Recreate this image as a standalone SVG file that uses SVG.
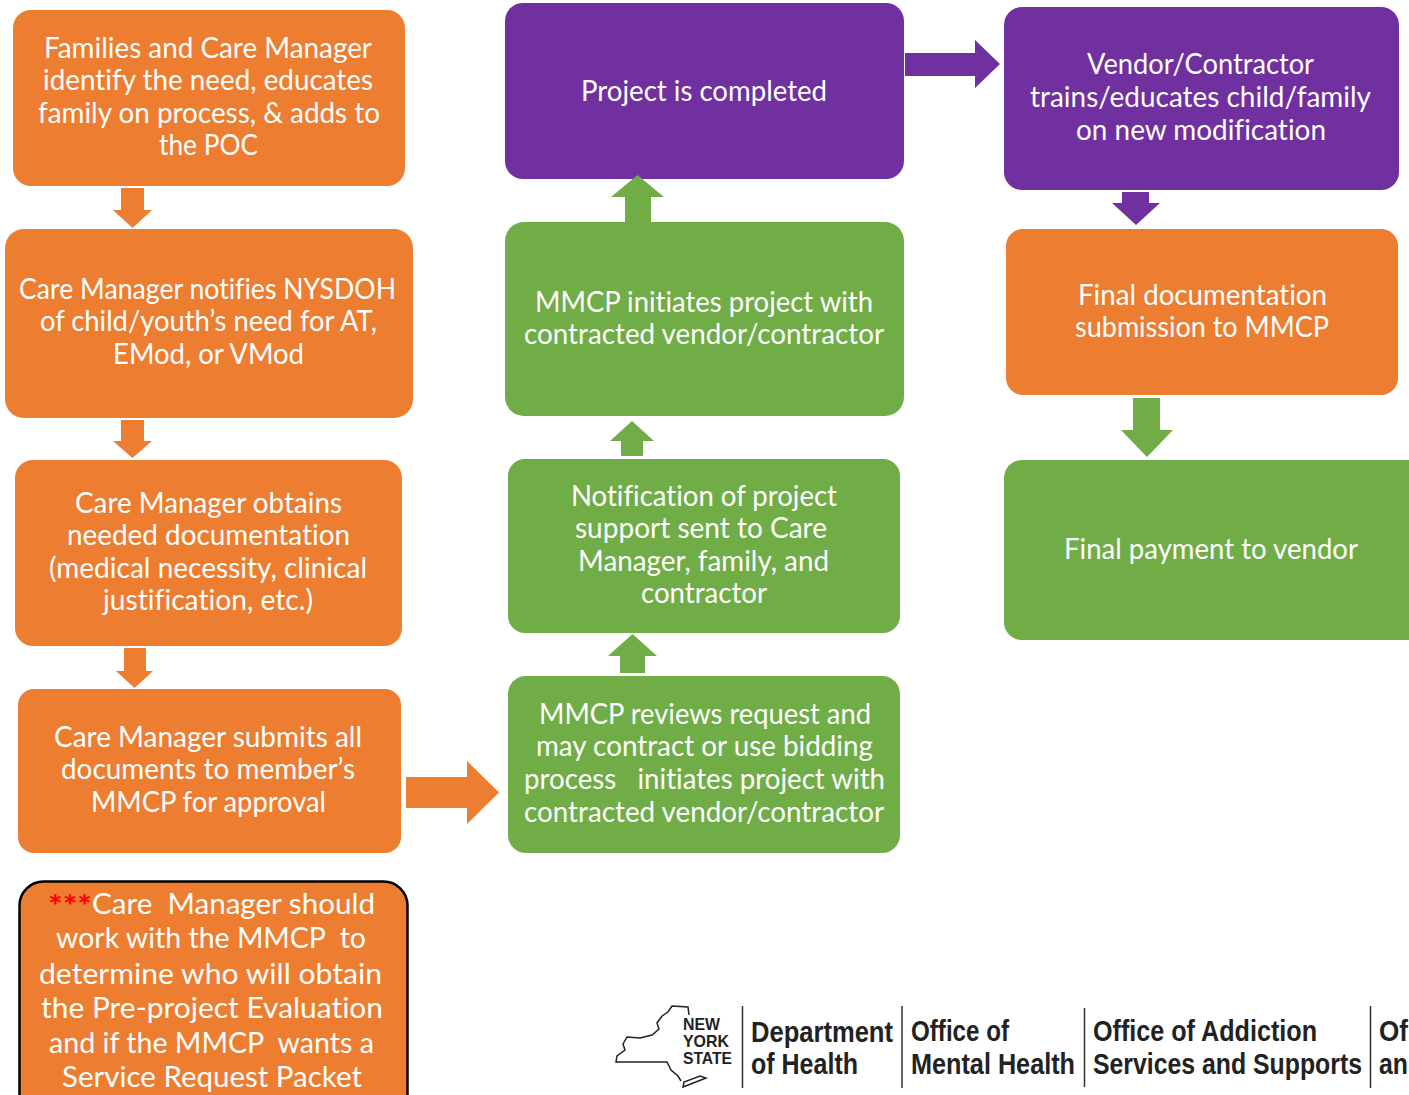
<svg xmlns="http://www.w3.org/2000/svg" width="1409" height="1095" viewBox="0 0 1409 1095">
<style>
.o{fill:#ED7D31}.g{fill:#70AD47}.p{fill:#7030A0}
text{font-family:"Lato","Liberation Sans",sans-serif;font-variant-ligatures:none}
.t{fill:#fff;font-size:28px}
.l{fill:#222;font-family:"Liberation Sans Narrow","Liberation Sans",sans-serif;font-weight:700;font-size:29px}
.s{fill:#222;font-family:"Liberation Sans Narrow","Liberation Sans",sans-serif;font-weight:700;font-size:17px}
.v{stroke:#333;stroke-width:1.500;fill:none}
</style>
<rect width="1409" height="1095" fill="#fff"/>
<g id="n1"><rect class="o" x="13" y="10" width="392" height="176" rx="18"/>
<text class="t" x="44" y="58" textLength="328" lengthAdjust="spacingAndGlyphs">Families and Care Manager</text>
<text class="t" x="43" y="90" textLength="330" lengthAdjust="spacingAndGlyphs">identify the need, educates</text>
<text class="t" x="38" y="123" textLength="342" lengthAdjust="spacingAndGlyphs">family on process, &amp; adds to</text>
<text class="t" x="159" y="155" textLength="99" lengthAdjust="spacingAndGlyphs">the POC</text></g>
<g id="n2"><rect class="o" x="5" y="229" width="408" height="189" rx="19"/>
<text class="t" x="19" y="299" textLength="377" lengthAdjust="spacingAndGlyphs">Care Manager notifies NYSDOH</text>
<text class="t" x="40" y="331" textLength="337" lengthAdjust="spacingAndGlyphs">of child/youth’s need for AT,</text>
<text class="t" x="113" y="364" textLength="191" lengthAdjust="spacingAndGlyphs">EMod, or VMod</text></g>
<g id="n3"><rect class="o" x="15" y="460" width="387" height="186" rx="18"/>
<text class="t" x="75" y="513" textLength="267" lengthAdjust="spacingAndGlyphs">Care Manager obtains</text>
<text class="t" x="67" y="545" textLength="283" lengthAdjust="spacingAndGlyphs">needed documentation</text>
<text class="t" x="49" y="578" textLength="318" lengthAdjust="spacingAndGlyphs">(medical necessity, clinical</text>
<text class="t" x="103" y="610" textLength="210" lengthAdjust="spacingAndGlyphs">justification, etc.)</text></g>
<g id="n4"><rect class="o" x="18" y="689" width="383" height="164" rx="16"/>
<text class="t" x="54" y="747" textLength="308" lengthAdjust="spacingAndGlyphs">Care Manager submits all</text>
<text class="t" x="61" y="779" textLength="294" lengthAdjust="spacingAndGlyphs">documents to member’s</text>
<text class="t" x="91" y="812" textLength="235" lengthAdjust="spacingAndGlyphs">MMCP for approval</text></g>
<g id="n5"><rect class="o" x="19.500" y="881.500" width="388" height="240" rx="24" stroke="#000" stroke-width="2.500"/>
<text x="48" y="917" fill="#f00" font-size="31" font-weight="700" textLength="44" lengthAdjust="spacingAndGlyphs">***</text>
<text class="t" x="92" y="914" textLength="283" lengthAdjust="spacingAndGlyphs" xml:space="preserve">Care  Manager should</text>
<text class="t" x="56" y="948" textLength="310" lengthAdjust="spacingAndGlyphs" xml:space="preserve">work with the MMCP  to</text>
<text class="t" x="39" y="984" textLength="343" lengthAdjust="spacingAndGlyphs">determine who will obtain</text>
<text class="t" x="41" y="1018" textLength="342" lengthAdjust="spacingAndGlyphs">the Pre-project Evaluation</text>
<text class="t" x="49" y="1053" textLength="325" lengthAdjust="spacingAndGlyphs" xml:space="preserve">and if the MMCP  wants a</text>
<text class="t" x="62" y="1087" textLength="300" lengthAdjust="spacingAndGlyphs">Service Request Packet</text></g>
<g id="n6"><rect class="p" x="505" y="3" width="399" height="176" rx="18"/>
<text class="t" x="581" y="101" textLength="246" lengthAdjust="spacingAndGlyphs">Project is completed</text></g>
<g id="n7"><rect class="g" x="505" y="222" width="399" height="194" rx="19"/>
<text class="t" x="535" y="312" textLength="338" lengthAdjust="spacingAndGlyphs">MMCP initiates project with</text>
<text class="t" x="524" y="344" textLength="360" lengthAdjust="spacingAndGlyphs">contracted vendor/contractor</text></g>
<g id="n8"><rect class="g" x="508" y="459" width="392" height="174" rx="17"/>
<text class="t" x="571" y="506" textLength="266" lengthAdjust="spacingAndGlyphs">Notification of project</text>
<text class="t" x="575" y="538" textLength="252" lengthAdjust="spacingAndGlyphs">support sent to Care</text>
<text class="t" x="578" y="571" textLength="251" lengthAdjust="spacingAndGlyphs">Manager, family, and</text>
<text class="t" x="641" y="603" textLength="126" lengthAdjust="spacingAndGlyphs">contractor</text></g>
<g id="n9"><rect class="g" x="508" y="676" width="392" height="177" rx="18"/>
<text class="t" x="539" y="724" textLength="332" lengthAdjust="spacingAndGlyphs">MMCP reviews request and</text>
<text class="t" x="536" y="756" textLength="337" lengthAdjust="spacingAndGlyphs">may contract or use bidding</text>
<text class="t" x="524" y="789" textLength="361" lengthAdjust="spacingAndGlyphs" xml:space="preserve">process   initiates project with</text>
<text class="t" x="524" y="822" textLength="360" lengthAdjust="spacingAndGlyphs">contracted vendor/contractor</text></g>
<g id="n10"><rect class="p" x="1004" y="7" width="395" height="183" rx="18"/>
<text class="t" x="1087" y="74" textLength="227" lengthAdjust="spacingAndGlyphs">Vendor/Contractor</text>
<text class="t" x="1030" y="107" textLength="341" lengthAdjust="spacingAndGlyphs">trains/educates child/family</text>
<text class="t" x="1076" y="140" textLength="250" lengthAdjust="spacingAndGlyphs">on new modification</text></g>
<g id="n11"><rect class="o" x="1006" y="229" width="392" height="166" rx="17"/>
<text class="t" x="1078" y="305" textLength="249" lengthAdjust="spacingAndGlyphs">Final documentation</text>
<text class="t" x="1075" y="337" textLength="254" lengthAdjust="spacingAndGlyphs">submission to MMCP</text></g>
<g id="n12"><rect class="g" x="1004" y="460" width="430" height="180" rx="18"/>
<text class="t" x="1064" y="559" textLength="294" lengthAdjust="spacingAndGlyphs">Final payment to vendor</text></g>
<g id="connectors">
<polygon class="o" points="121,188 144,188 144,210 152,210 132.500,228 113,210 121,210"/>
<polygon class="o" points="121,420 144,420 144,441 152,441 132.500,458 113,441 121,441"/>
<polygon class="o" points="124,648 146,648 146,671 153,671 134.500,688 116,671 124,671"/>
<polygon class="o" points="406,777 467,777 467,761 499,792.500 467,824 467,808 406,808"/>
<polygon class="g" points="620,673 645,673 645,656 657,656 632.500,634 608,656 620,656"/>
<polygon class="g" points="621,456 643,456 643,441 654,441 632,421 610,441 621,441"/>
<polygon class="g" points="625,222 651,222 651,197 664,197 637.500,175 611,197 625,197"/>
<polygon class="p" points="905,53 975,53 975,40 1000,64 975,88 975,76 905,76"/>
<polygon class="p" points="1122,192 1149,192 1149,203 1160,203 1136,225 1112,203 1122,203"/>
<polygon class="g" points="1133,398 1160,398 1160,430 1173,430 1147,457 1121,430 1133,430"/>
</g>
<g id="logo">
<path d="M689 1015 L688 1007 L672 1006 L668 1012 L662 1016 L657 1023 L659 1029 L652 1035 L640 1038 L627 1037 L623 1044 L625 1050 L617 1056 L616 1062 L667 1062 L671 1070 L678 1076 L681 1081" fill="none" stroke="#222" stroke-width="1.500"/>
<path d="M683 1087 L706 1078 L700 1076 L684 1082 Z" fill="none" stroke="#222" stroke-width="1.500"/>
<text class="s" x="683" y="1030" textLength="37" lengthAdjust="spacingAndGlyphs">NEW</text>
<text class="s" x="683" y="1047" textLength="46" lengthAdjust="spacingAndGlyphs">YORK</text>
<text class="s" x="683" y="1064" textLength="49" lengthAdjust="spacingAndGlyphs">STATE</text>
<path class="v" d="M742.500 1006V1088M902 1006V1088M1084.500 1008V1087M1370.500 1006V1088"/>
<text class="l" x="751" y="1042" textLength="142" lengthAdjust="spacingAndGlyphs">Department</text>
<text class="l" x="751" y="1074" textLength="107" lengthAdjust="spacingAndGlyphs">of Health</text>
<text class="l" x="911" y="1041" textLength="98" lengthAdjust="spacingAndGlyphs">Office of</text>
<text class="l" x="911" y="1074" textLength="164" lengthAdjust="spacingAndGlyphs">Mental Health</text>
<text class="l" x="1093" y="1041" textLength="224" lengthAdjust="spacingAndGlyphs">Office of Addiction</text>
<text class="l" x="1093" y="1074" textLength="269" lengthAdjust="spacingAndGlyphs">Services and Supports</text>
<text class="l" x="1379" y="1041" textLength="29" lengthAdjust="spacingAndGlyphs">Of</text>
<text class="l" x="1379" y="1074" textLength="29" lengthAdjust="spacingAndGlyphs">an</text>
</g>
</svg>
